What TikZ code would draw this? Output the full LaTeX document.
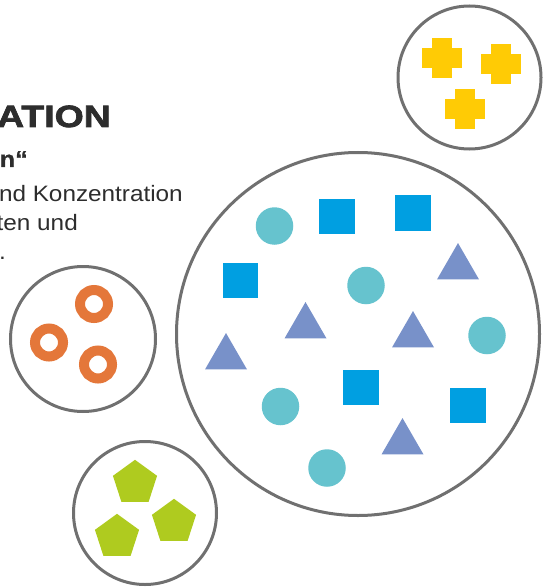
\documentclass[tikz,border=0pt]{standalone}
\usepackage{fontspec}
\setmainfont{Liberation Sans}
\newfontfamily\headfont{Liberation Sans Bold}[FakeStretch=1.22,FakeBold=2.5]
\newfontfamily\subfont{Liberation Sans Bold}[FakeStretch=1.1,FakeBold=1]
\newfontfamily\bodyfont{Liberation Sans}[FakeStretch=1.09]
\usetikzlibrary{shapes.geometric}
\definecolor{rimgray}{HTML}{707070}
\definecolor{plusyellow}{HTML}{FFCB05}
\definecolor{ringorange}{HTML}{E4773A}
\definecolor{pentgreen}{HTML}{AFCB1F}
\definecolor{dotteal}{HTML}{66C3CE}
\definecolor{sqblue}{HTML}{009FE1}
\definecolor{trislate}{HTML}{7891C9}
\definecolor{txtdark}{HTML}{2D2D2D}
\tikzset{
  bubble/.style={circle, draw=rimgray, line width=3, inner sep=0},
  plush/.style={rectangle, fill=plusyellow, minimum width=40, minimum height=20, inner sep=0},
  plusv/.style={rectangle, fill=plusyellow, minimum width=20, minimum height=40, inner sep=0},
  ringshape/.style={circle, draw=ringorange, line width=10, minimum size=28, inner sep=0},
  pent/.style={regular polygon, regular polygon sides=5, fill=pentgreen, minimum size=46.4, inner sep=0},
  tealdot/.style={circle, fill=dotteal, minimum size=37.5, inner sep=0},
  bluesq/.style={rectangle, fill=sqblue, minimum size=35.5, inner sep=0},
  slatetri/.style={regular polygon, regular polygon sides=3, fill=trislate, minimum size=48.5, inner sep=0},
  txt/.style={inner sep=0, text=txtdark},
}
\begin{document}
\begin{tikzpicture}[x=1pt,y=-1pt]
\useasboundingbox (0,0) rectangle (543,588);
% text
\node[txt, anchor=base east] (title) at (111,127) {\headfont\fontsize{30.7}{30.7}\selectfont ATION};
\node[txt, anchor=base east] (sub) at (28,167) {\subfont\fontsize{23}{23}\selectfont n“};
\node[txt, anchor=base east] (line1) at (183,201) {\bodyfont\fontsize{22.3}{22.3}\selectfont nd Konzentration};
\node[txt, anchor=base east] (line2) at (78,230) {\bodyfont\fontsize{22.3}{22.3}\selectfont ten und};
\node[txt, anchor=base east] (line3) at (6,259) {\bodyfont\fontsize{22.3}{22.3}\selectfont .};
% bubbles
\node[bubble, minimum size=363] (big) at (358,334) {};
\node[bubble, minimum size=143] (yel) at (469.5,77.5) {};
\node[bubble, minimum size=145] (ora) at (83,339) {};
\node[bubble, minimum size=143] (gre) at (145,513) {};
% yellow crosses
\node[plush] (p1h) at (442,58) {}; \node[plusv] (p1v) at (442,58) {};
\node[plush] (p2h) at (501,64) {}; \node[plusv] (p2v) at (501,64) {};
\node[plush] (p3h) at (464.5,109) {}; \node[plusv] (p3v) at (464.5,109) {};
% orange rings
\node[ringshape] (r1) at (94,304) {};
\node[ringshape] (r2) at (49,342.5) {};
\node[ringshape] (r3) at (98,364.5) {};
% green pentagons
\node[pent] (g1) at (135,483) {};
\node[pent] (g2) at (174,522) {};
\node[pent] (g3) at (117,537) {};
% teal dots
\node[tealdot] (c1) at (274.5,226) {};
\node[tealdot] (c2) at (366,285.5) {};
\node[tealdot] (c3) at (487,335.5) {};
\node[tealdot] (c4) at (280.5,406.5) {};
\node[tealdot] (c5) at (327,468) {};
% blue squares
\node[bluesq] (s1) at (337,216.5) {};
\node[bluesq] (s2) at (413,213) {};
\node[bluesq] (s3) at (240.5,280.5) {};
\node[bluesq] (s4) at (361,387.5) {};
\node[bluesq] (s5) at (468,405.5) {};
% triangles
\node[slatetri] (t1) at (458,267.3) {};
\node[slatetri] (t2) at (305.5,326.3) {};
\node[slatetri] (t3) at (413,335.3) {};
\node[slatetri] (t4) at (226,357.3) {};
\node[slatetri] (t5) at (402.5,442.3) {};
\end{tikzpicture}
\end{document}
